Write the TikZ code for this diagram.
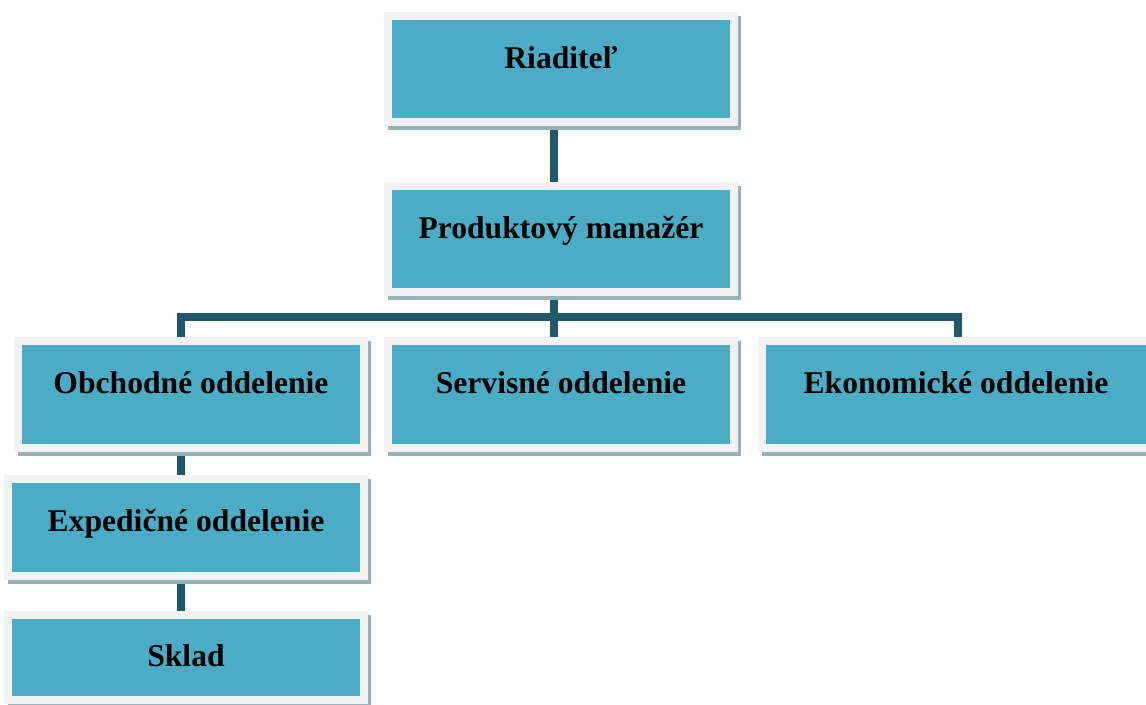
\documentclass[tikz,border=0pt]{standalone}
\usepackage{fontspec}
\setmainfont{Liberation Serif}
\usetikzlibrary{shadows, backgrounds}

\definecolor{unitblue}{RGB}{75,172,198}
\definecolor{framegray}{RGB}{242,242,242}
\definecolor{linkteal}{RGB}{33,89,104}
\definecolor{shadegray}{RGB}{150,178,186}

\begin{document}
\begin{tikzpicture}[x = 0.02cm, y = -0.02cm,
                      unit/.style = {rectangle, fill = unitblue, draw = framegray, line width = 0.16cm,
                                     minimum width = 6.92cm, inner sep = 0pt,
                                     text height = 1.06cm, text depth = 1.08cm,
                                     font = \fontsize{18}{22}\selectfont\bfseries,
                                     general shadow = {fill = shadegray, draw = shadegray, line width = 0.16cm,
                                                       shadow xshift = 0.07cm, shadow yshift = -0.08cm}},
                      link/.style = {draw = linkteal, line width = 0.16cm, line join = miter}]
    \clip (0, 0) rectangle (1146, 705);
    \useasboundingbox (0, 0) rectangle (1146, 705);

    \node [unit] (riad) at (561, 69) {Riaditeľ};
    \node [unit] (prod) at (561, 239) {Produktový manažér};
    \node [unit] (obch) at (191, 394.5) {Obchodné oddelenie};
    \node [unit] (serv) at (561, 394.5) {Servisné oddelenie};
    \node [unit, minimum width = 7.76cm] (ekon) at (956, 394.5) {Ekonomické oddelenie};
    \node [unit, minimum width = 7.12cm, text depth = 0.88cm] (exped) at (186, 527.5) {Expedičné oddelenie};
    \node [unit, minimum width = 7.12cm, text height = 1.04cm, text depth = 0.66cm] (sklad) at (186, 657.5) {Sklad};
    \coordinate (bus) at (554, 317);

    % connectors go under the boxes
    \begin{scope}[on background layer]
    \draw [link] ([xshift = -0.14cm]riad.south) -- ([xshift = -0.14cm]prod.north);
    \draw [link] ([xshift = -0.14cm]prod.south) -- ([xshift = -0.14cm]serv.north);
    \draw [link] ([xshift = -0.2cm]obch.north) |- (bus) -| ([xshift = 0.04cm]ekon.north);
    \draw [link] ([xshift = -0.2cm]obch.south) -- ([xshift = -0.1cm]exped.north);
    \draw [link] ([xshift = -0.1cm]exped.south) -- ([xshift = -0.1cm]sklad.north);
    \end{scope}
\end{tikzpicture}
\end{document}
